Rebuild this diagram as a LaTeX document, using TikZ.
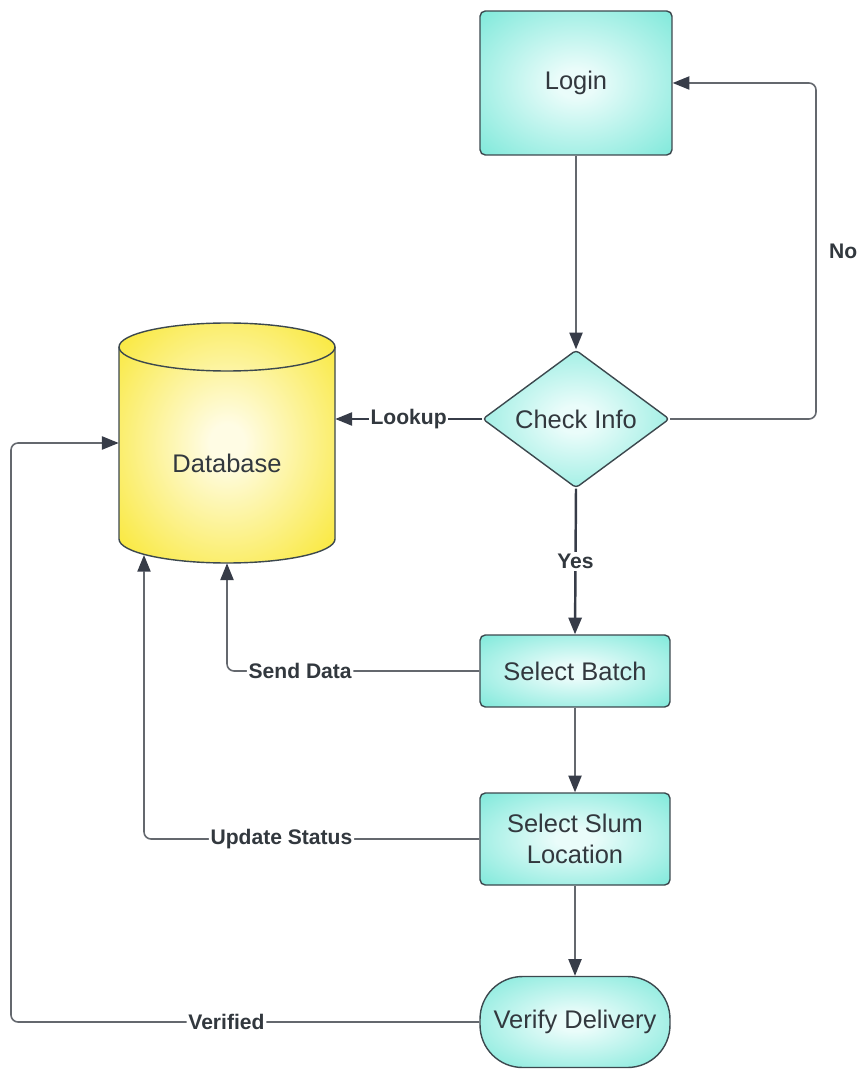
\documentclass[tikz,border=0pt]{standalone}
\usepackage{fontspec}
\setmainfont{Liberation Sans}
\usepackage{xcolor}
\definecolor{tealin}{RGB}{234,252,250}
\definecolor{tealout}{RGB}{112,230,214}
\definecolor{yelin}{RGB}{255,252,228}
\definecolor{yelout}{RGB}{249,232,58}
\definecolor{edge}{RGB}{60,72,78}
\definecolor{wire}{RGB}{100,104,110}
\definecolor{tip}{RGB}{55,60,72}
\definecolor{ink}{RGB}{50,56,62}
\usepackage{tikz}
\usetikzlibrary{shapes.geometric,arrows.meta}
\pgfdeclareradialshading{tealglow}{\pgfpointorigin}{color(0bp)=(tealin); color(5bp)=(tealin); color(40bp)=(tealout); color(50bp)=(tealout)}
\pgfdeclareradialshading{yelglow}{\pgfpointorigin}{color(0bp)=(yelin); color(4bp)=(yelin); color(34bp)=(yelout); color(50bp)=(yelout)}

\begin{document}
\begin{tikzpicture}[x=0.02cm,y=-0.02cm,line join=round]
	\tikzstyle{box}=[draw=edge,line width=0.8pt,shading=tealglow,rounded corners=3pt,text=ink,font=\fontsize{14.5}{18}\selectfont,align=center,minimum width=3.8cm,inner sep=2pt];
	\tikzstyle{link}=[draw=wire,line width=0.9pt,-{Triangle[length=9.5pt,width=7.5pt,color=tip]}];
	\tikzstyle{lbl}=[fill=white,text=ink,font=\bfseries\fontsize{12}{14}\selectfont,inner sep=1pt];
	\useasboundingbox (0,0) rectangle (857,1070);
	% database cylinder
	\shadedraw[shading=yelglow,draw=edge,line width=0.8pt] (119,347) -- (119,539) arc (180:0:108 and 24) -- (335,347) arc (0:-180:108 and 24) -- cycle;
	\draw[edge,line width=0.8pt] (119,347) arc (180:0:108 and 24);
	\node[minimum width=4.32cm,minimum height=4.8cm,label={[text=ink,font=\fontsize{14.5}{18}\selectfont,yshift=-0.4cm]center:Database}] (db) at (227,443) {};
	% process steps
	\node[box,minimum width=3.84cm,minimum height=2.88cm] (login)  at (576,83)   {Login};
	\node[box,diamond,aspect=1.35,minimum width=3.74cm,minimum height=2.76cm,inner sep=0pt,rounded corners=2pt] (chk) at (576,419) {Check Info};
	\node[box,minimum height=1.44cm] (batch)  at (575,671)  {Select Batch};
	\node[box,minimum height=1.84cm] (slum)   at (575,839)  {Select Slum\\Location};
	\node[box,minimum height=1.82cm,rounded corners=0.85cm] (verify) at (575,1022) {Verify Delivery};
	\coordinate (noR)  at (816,83);
	\coordinate (updB) at (144,555);
	\coordinate (verL) at (11,441);
	% connectors
	\draw[link] (login.south) -- (chk.north);
	\draw[link,rounded corners=4pt] (chk.east) -| node[pos=0.75,right,lbl,fill=none,xshift=6pt]{No} (noR) -- (login.east);
	\draw[link,draw=tip] (chk.west) -- node[lbl]{Lookup} (chk.west -| db.east);
	\draw[link,draw=tip,line width=1.4pt] (chk.south) -- node[lbl]{Yes} (batch.north);
	\draw[link] (batch.south) -- (slum.north);
	\draw[link] (slum.south) -- (verify.north);
	\draw[link,rounded corners=4pt] (batch.west) -- node[lbl,pos=0.71]{Send Data} (batch.west -| db.south) -- (db.south);
	\draw[link,rounded corners=4pt] (slum.west) -- node[lbl,pos=0.59]{Update Status} (slum.west -| updB) -- (updB);
	\draw[link,rounded corners=4pt] (verify.west) -- node[lbl,pos=0.54]{Verified} (verify.west -| verL) |- (db.west);
\end{tikzpicture}
\end{document}
